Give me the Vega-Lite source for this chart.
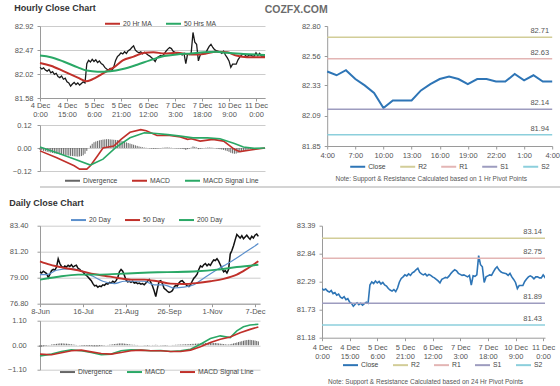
{
"$schema":"https://vega.github.io/schema/vega-lite/v6.json",
"background":"white",
"padding":{"left":7,"top":4,"right":0,"bottom":0},
"title":{"text":"COZFX.COM","anchor":"middle","frame":"bounds","fontSize":10.5,"fontWeight":"bold","color":"#6b6b6b","offset":-11,"dx":-3.5},
"config":{
 "font":"Liberation Sans",
 "view":{"stroke":null},
 "axis":{"labelFont":"Liberation Sans","labelFontSize":7.5,"labelColor":"#555","domainColor":"#9a9a9a","tickColor":"#9a9a9a","gridColor":"#cccccc","tickSize":3,"labelFlush":false,"labelOverlap":false,"titleFont":"Liberation Sans"},
 "legend":{"labelFont":"Liberation Sans","labelFontSize":6.8,"labelColor":"#444","symbolType":"stroke","symbolSize":225,"symbolStrokeWidth":2,"labelOffset":2,"columnPadding":10},
 "title":{"font":"Liberation Sans"}
},
"datasets":{
 "hourly":[{"i":0,"c":82.15},{"i":1,"c":82.12},{"i":2,"c":82.14},{"i":3,"c":82.10},{"i":4,"c":82.08},{"i":5,"c":82.11},{"i":6,"c":82.05},{"i":7,"c":82.07},{"i":8,"c":82.02},{"i":9,"c":82.04},{"i":10,"c":81.98},{"i":11,"c":81.96},{"i":12,"c":81.99},{"i":13,"c":81.93},{"i":14,"c":81.95},{"i":15,"c":81.88},{"i":16,"c":81.86},{"i":17,"c":81.80},{"i":18,"c":81.84},{"i":19,"c":81.87},{"i":20,"c":81.83},{"i":21,"c":81.86},{"i":22,"c":81.82},{"i":23,"c":81.85},{"i":24,"c":81.88},{"i":25,"c":81.86},{"i":26,"c":82.22},{"i":27,"c":82.28},{"i":28,"c":82.25},{"i":29,"c":82.30},{"i":30,"c":82.26},{"i":31,"c":82.29},{"i":32,"c":82.24},{"i":33,"c":82.27},{"i":34,"c":82.22},{"i":35,"c":82.20},{"i":36,"c":82.15},{"i":37,"c":82.12},{"i":38,"c":82.10},{"i":39,"c":82.13},{"i":40,"c":82.09},{"i":41,"c":82.16},{"i":42,"c":82.28},{"i":43,"c":82.35},{"i":44,"c":82.38},{"i":45,"c":82.42},{"i":46,"c":82.40},{"i":47,"c":82.44},{"i":48,"c":82.41},{"i":49,"c":82.46},{"i":50,"c":82.48},{"i":51,"c":82.52},{"i":52,"c":82.55},{"i":53,"c":82.47},{"i":54,"c":82.44},{"i":55,"c":82.42},{"i":56,"c":82.44},{"i":57,"c":82.40},{"i":58,"c":82.43},{"i":59,"c":82.41},{"i":60,"c":82.38},{"i":61,"c":82.36},{"i":62,"c":82.33},{"i":63,"c":82.30},{"i":64,"c":82.26},{"i":65,"c":82.33},{"i":66,"c":82.35},{"i":67,"c":82.37},{"i":68,"c":82.36},{"i":69,"c":82.40},{"i":70,"c":82.45},{"i":71,"c":82.49},{"i":72,"c":82.52},{"i":73,"c":82.50},{"i":74,"c":82.45},{"i":75,"c":82.43},{"i":76,"c":82.41},{"i":77,"c":82.42},{"i":78,"c":82.40},{"i":79,"c":82.38},{"i":80,"c":82.41},{"i":81,"c":82.22},{"i":82,"c":82.40},{"i":83,"c":82.39},{"i":84,"c":82.42},{"i":85,"c":82.80},{"i":86,"c":82.62},{"i":87,"c":82.58},{"i":88,"c":82.27},{"i":89,"c":82.38},{"i":90,"c":82.40},{"i":91,"c":82.42},{"i":92,"c":82.41},{"i":93,"c":82.48},{"i":94,"c":82.54},{"i":95,"c":82.58},{"i":96,"c":82.52},{"i":97,"c":82.48},{"i":98,"c":82.46},{"i":99,"c":82.45},{"i":100,"c":82.44},{"i":101,"c":82.41},{"i":102,"c":82.45},{"i":103,"c":82.38},{"i":104,"c":82.33},{"i":105,"c":82.27},{"i":106,"c":82.15},{"i":107,"c":82.21},{"i":108,"c":82.21},{"i":109,"c":82.21},{"i":110,"c":82.29},{"i":111,"c":82.34},{"i":112,"c":82.38},{"i":113,"c":82.40},{"i":114,"c":82.38},{"i":115,"c":82.34},{"i":116,"c":82.38},{"i":117,"c":82.38},{"i":118,"c":82.36},{"i":119,"c":82.36},{"i":120,"c":82.42},{"i":121,"c":82.37},{"i":122,"c":82.41},{"i":123,"c":82.36},{"i":124,"c":82.36},{"i":125,"c":82.36}],
 "hma":[{"s":"20 Hr MA","i":0,"v":82.23},{"s":"20 Hr MA","i":6,"v":82.18},{"s":"20 Hr MA","i":13,"v":82.08},{"s":"20 Hr MA","i":21,"v":81.96},{"s":"20 Hr MA","i":26,"v":81.89},{"s":"20 Hr MA","i":31,"v":81.96},{"s":"20 Hr MA","i":35,"v":82.04},{"s":"20 Hr MA","i":41,"v":82.15},{"s":"20 Hr MA","i":46,"v":82.28},{"s":"20 Hr MA","i":52,"v":82.35},{"s":"20 Hr MA","i":58,"v":82.42},{"s":"20 Hr MA","i":63,"v":82.43},{"s":"20 Hr MA","i":69,"v":82.41},{"s":"20 Hr MA","i":76,"v":82.42},{"s":"20 Hr MA","i":84,"v":82.39},{"s":"20 Hr MA","i":91,"v":82.40},{"s":"20 Hr MA","i":98,"v":82.44},{"s":"20 Hr MA","i":104,"v":82.43},{"s":"20 Hr MA","i":109,"v":82.37},{"s":"20 Hr MA","i":115,"v":82.34},{"s":"20 Hr MA","i":125,"v":82.34},
  {"s":"50 Hrs MA","i":0,"v":82.37},{"s":"50 Hrs MA","i":6,"v":82.34},{"s":"50 Hrs MA","i":13,"v":82.26},{"s":"50 Hrs MA","i":21,"v":82.15},{"s":"50 Hrs MA","i":26,"v":82.09},{"s":"50 Hrs MA","i":32,"v":82.07},{"s":"50 Hrs MA","i":39,"v":82.08},{"s":"50 Hrs MA","i":46,"v":82.12},{"s":"50 Hrs MA","i":54,"v":82.20},{"s":"50 Hrs MA","i":61,"v":82.28},{"s":"50 Hrs MA","i":69,"v":82.36},{"s":"50 Hrs MA","i":76,"v":82.39},{"s":"50 Hrs MA","i":84,"v":82.41},{"s":"50 Hrs MA","i":91,"v":82.43},{"s":"50 Hrs MA","i":98,"v":82.44},{"s":"50 Hrs MA","i":104,"v":82.42},{"s":"50 Hrs MA","i":113,"v":82.40},{"s":"50 Hrs MA","i":125,"v":82.38}],
 "hmacd":[{"s":"MACD","i":0,"v":-0.015},{"s":"MACD","i":9,"v":-0.05},{"s":"MACD","i":19,"v":-0.093},{"s":"MACD","i":22,"v":-0.11},{"s":"MACD","i":26,"v":-0.11},{"s":"MACD","i":28,"v":-0.093},{"s":"MACD","i":32,"v":-0.04},{"s":"MACD","i":35,"v":0.0},{"s":"MACD","i":41,"v":0.01},{"s":"MACD","i":45,"v":0.045},{"s":"MACD","i":50,"v":0.082},{"s":"MACD","i":56,"v":0.096},{"s":"MACD","i":59,"v":0.09},{"s":"MACD","i":65,"v":0.065},{"s":"MACD","i":72,"v":0.065},{"s":"MACD","i":78,"v":0.058},{"s":"MACD","i":82,"v":0.045},{"s":"MACD","i":84,"v":0.048},{"s":"MACD","i":89,"v":0.036},{"s":"MACD","i":96,"v":0.045},{"s":"MACD","i":102,"v":0.036},{"s":"MACD","i":108,"v":-0.007},{"s":"MACD","i":111,"v":-0.019},{"s":"MACD","i":117,"v":-0.01},{"s":"MACD","i":125,"v":0.0},
  {"s":"MACD Signal Line","i":0,"v":0.005},{"s":"MACD Signal Line","i":9,"v":-0.024},{"s":"MACD Signal Line","i":19,"v":-0.058},{"s":"MACD Signal Line","i":28,"v":-0.089},{"s":"MACD Signal Line","i":35,"v":-0.058},{"s":"MACD Signal Line","i":42,"v":0.002},{"s":"MACD Signal Line","i":50,"v":0.053},{"s":"MACD Signal Line","i":58,"v":0.079},{"s":"MACD Signal Line","i":63,"v":0.077},{"s":"MACD Signal Line","i":71,"v":0.07},{"s":"MACD Signal Line","i":78,"v":0.062},{"s":"MACD Signal Line","i":85,"v":0.053},{"s":"MACD Signal Line","i":93,"v":0.053},{"s":"MACD Signal Line","i":100,"v":0.048},{"s":"MACD Signal Line","i":108,"v":0.024},{"s":"MACD Signal Line","i":113,"v":0.005},{"s":"MACD Signal Line","i":119,"v":-0.002},{"s":"MACD Signal Line","i":125,"v":0.0}],
 "hdiv":[{"i":0,"v":-0.010},{"i":1,"v":-0.012},{"i":2,"v":-0.015},{"i":3,"v":-0.017},{"i":4,"v":-0.020},{"i":5,"v":-0.022},{"i":6,"v":-0.024},{"i":7,"v":-0.026},{"i":8,"v":-0.028},{"i":9,"v":-0.030},{"i":10,"v":-0.031},{"i":11,"v":-0.033},{"i":12,"v":-0.035},{"i":13,"v":-0.036},{"i":14,"v":-0.037},{"i":15,"v":-0.038},{"i":16,"v":-0.040},{"i":17,"v":-0.041},{"i":18,"v":-0.042},{"i":19,"v":-0.043},{"i":20,"v":-0.044},{"i":21,"v":-0.045},{"i":22,"v":-0.044},{"i":23,"v":-0.042},{"i":24,"v":-0.038},{"i":25,"v":-0.030},{"i":26,"v":-0.015},{"i":27,"v":0.000},{"i":28,"v":0.012},{"i":29,"v":0.022},{"i":30,"v":0.030},{"i":31,"v":0.034},{"i":32,"v":0.037},{"i":33,"v":0.040},{"i":34,"v":0.042},{"i":35,"v":0.044},{"i":36,"v":0.045},{"i":37,"v":0.046},{"i":38,"v":0.046},{"i":39,"v":0.045},{"i":40,"v":0.044},{"i":41,"v":0.043},{"i":42,"v":0.042},{"i":43,"v":0.041},{"i":44,"v":0.040},{"i":45,"v":0.038},{"i":46,"v":0.035},{"i":47,"v":0.032},{"i":48,"v":0.029},{"i":49,"v":0.026},{"i":50,"v":0.023},{"i":51,"v":0.020},{"i":52,"v":0.017},{"i":53,"v":0.014},{"i":54,"v":0.011},{"i":55,"v":0.008},{"i":56,"v":0.006},{"i":57,"v":0.004},{"i":58,"v":0.002},{"i":59,"v":0.001},{"i":60,"v":0.000},{"i":61,"v":-0.002},{"i":62,"v":-0.003},{"i":63,"v":-0.004},{"i":64,"v":-0.004},{"i":65,"v":-0.003},{"i":66,"v":-0.002},{"i":67,"v":-0.001},{"i":68,"v":0.001},{"i":69,"v":0.002},{"i":70,"v":0.003},{"i":71,"v":0.003},{"i":72,"v":0.002},{"i":73,"v":0.001},{"i":74,"v":0.000},{"i":75,"v":-0.001},{"i":76,"v":-0.002},{"i":77,"v":-0.002},{"i":78,"v":-0.003},{"i":79,"v":-0.004},{"i":80,"v":-0.006},{"i":81,"v":-0.010},{"i":82,"v":-0.006},{"i":83,"v":-0.003},{"i":84,"v":0.002},{"i":85,"v":0.008},{"i":86,"v":0.006},{"i":87,"v":0.003},{"i":88,"v":-0.006},{"i":89,"v":-0.004},{"i":90,"v":-0.002},{"i":91,"v":0.000},{"i":92,"v":0.001},{"i":93,"v":0.002},{"i":94,"v":0.003},{"i":95,"v":0.002},{"i":96,"v":0.001},{"i":97,"v":0.000},{"i":98,"v":-0.002},{"i":99,"v":-0.004},{"i":100,"v":-0.006},{"i":101,"v":-0.008},{"i":102,"v":-0.010},{"i":103,"v":-0.013},{"i":104,"v":-0.016},{"i":105,"v":-0.020},{"i":106,"v":-0.025},{"i":107,"v":-0.028},{"i":108,"v":-0.030},{"i":109,"v":-0.029},{"i":110,"v":-0.026},{"i":111,"v":-0.022},{"i":112,"v":-0.018},{"i":113,"v":-0.015},{"i":114,"v":-0.012},{"i":115,"v":-0.010},{"i":116,"v":-0.008},{"i":117,"v":-0.006},{"i":118,"v":-0.005},{"i":119,"v":-0.004},{"i":120,"v":-0.003},{"i":121,"v":-0.002},{"i":122,"v":-0.002},{"i":123,"v":-0.001},{"i":124,"v":-0.001},{"i":125,"v":0.000}],
 "srh":[{"lvl":"R2","v":82.71,"label":"82.71"},{"lvl":"R1","v":82.54,"label":"82.63"},{"lvl":"S1","v":82.14,"label":"82.14"},{"lvl":"S2","v":81.94,"label":"81.94"}],
 "srd":[{"lvl":"R2","v":83.14,"label":"83.14"},{"lvl":"R1","v":82.75,"label":"82.75"},{"lvl":"S1","v":81.86,"label":"81.89"},{"lvl":"S2","v":81.43,"label":"81.43"}],
 "daily":[{"d":0,"c":79.5},{"d":1,"c":79.4},{"d":2,"c":79.55},{"d":3,"c":79.45},{"d":4,"c":79.35},{"d":5,"c":79.0},{"d":6,"c":79.3},{"d":7,"c":79.6},{"d":8,"c":79.7},{"d":9,"c":79.65},{"d":10,"c":79.9},{"d":11,"c":80.6},{"d":12,"c":80.2},{"d":13,"c":79.95},{"d":14,"c":79.85},{"d":15,"c":80.0},{"d":16,"c":79.9},{"d":17,"c":80.05},{"d":18,"c":79.95},{"d":19,"c":80.1},{"d":20,"c":79.9},{"d":21,"c":80.0},{"d":22,"c":80.05},{"d":23,"c":79.8},{"d":24,"c":79.7},{"d":25,"c":79.55},{"d":26,"c":79.5},{"d":27,"c":79.3},{"d":28,"c":79.2},{"d":29,"c":79.05},{"d":30,"c":78.9},{"d":31,"c":78.75},{"d":32,"c":78.5},{"d":33,"c":78.3},{"d":34,"c":78.35},{"d":35,"c":78.2},{"d":36,"c":78.3},{"d":37,"c":78.25},{"d":38,"c":78.4},{"d":39,"c":78.35},{"d":40,"c":78.5},{"d":41,"c":78.45},{"d":42,"c":78.6},{"d":43,"c":78.55},{"d":44,"c":78.7},{"d":45,"c":78.6},{"d":46,"c":78.75},{"d":47,"c":79.0},{"d":48,"c":79.5},{"d":49,"c":79.7},{"d":50,"c":79.55},{"d":51,"c":79.2},{"d":52,"c":78.8},{"d":53,"c":78.65},{"d":54,"c":78.7},{"d":55,"c":78.6},{"d":56,"c":78.7},{"d":57,"c":78.55},{"d":58,"c":78.6},{"d":59,"c":78.5},{"d":60,"c":78.55},{"d":61,"c":78.45},{"d":62,"c":78.5},{"d":63,"c":78.4},{"d":64,"c":78.55},{"d":65,"c":78.7},{"d":66,"c":78.85},{"d":67,"c":78.6},{"d":68,"c":78.3},{"d":69,"c":77.9},{"d":70,"c":77.4},{"d":71,"c":78.1},{"d":72,"c":78.7},{"d":73,"c":78.75},{"d":74,"c":78.5},{"d":75,"c":78.1},{"d":76,"c":78.0},{"d":77,"c":77.85},{"d":78,"c":77.75},{"d":79,"c":77.8},{"d":80,"c":77.9},{"d":81,"c":78.2},{"d":82,"c":78.35},{"d":83,"c":78.3},{"d":84,"c":78.55},{"d":85,"c":78.7},{"d":86,"c":78.75},{"d":87,"c":78.6},{"d":88,"c":78.45},{"d":89,"c":78.3},{"d":90,"c":78.25},{"d":91,"c":78.4},{"d":92,"c":78.7},{"d":93,"c":78.95},{"d":94,"c":79.1},{"d":95,"c":79.3},{"d":96,"c":79.7},{"d":97,"c":80.0},{"d":98,"c":79.9},{"d":99,"c":80.1},{"d":100,"c":80.2},{"d":101,"c":80.0},{"d":102,"c":80.15},{"d":103,"c":80.05},{"d":104,"c":80.3},{"d":105,"c":80.5},{"d":106,"c":80.45},{"d":107,"c":80.6},{"d":108,"c":80.4},{"d":109,"c":80.1},{"d":110,"c":79.8},{"d":111,"c":79.5},{"d":112,"c":79.6},{"d":113,"c":79.4},{"d":114,"c":79.7},{"d":115,"c":81.0},{"d":116,"c":81.3},{"d":117,"c":81.7},{"d":118,"c":82.2},{"d":119,"c":82.65},{"d":120,"c":82.5},{"d":121,"c":82.35},{"d":122,"c":82.55},{"d":123,"c":82.3},{"d":124,"c":82.45},{"d":125,"c":82.6},{"d":126,"c":82.4},{"d":127,"c":82.25},{"d":128,"c":82.5},{"d":129,"c":82.35},{"d":130,"c":82.6},{"d":131,"c":82.7},{"d":132,"c":82.5}],
 "dma":[{"s":"20 Day","d":0,"v":79.26},{"s":"20 Day","d":4,"v":79.26},{"s":"20 Day","d":10,"v":79.63},{"s":"20 Day","d":18,"v":79.74},{"s":"20 Day","d":24,"v":79.63},{"s":"20 Day","d":32,"v":79.12},{"s":"20 Day","d":38,"v":78.70},{"s":"20 Day","d":45,"v":78.5},{"s":"20 Day","d":51,"v":78.7},{"s":"20 Day","d":57,"v":78.7},{"s":"20 Day","d":63,"v":78.7},{"s":"20 Day","d":69,"v":78.4},{"s":"20 Day","d":75,"v":78.4},{"s":"20 Day","d":81,"v":78.13},{"s":"20 Day","d":87,"v":78.2},{"s":"20 Day","d":93,"v":78.4},{"s":"20 Day","d":99,"v":78.95},{"s":"20 Day","d":105,"v":79.5},{"s":"20 Day","d":111,"v":80.0},{"s":"20 Day","d":117,"v":80.5},{"s":"20 Day","d":123,"v":81.05},{"s":"20 Day","d":129,"v":81.6},{"s":"20 Day","d":132,"v":81.9},
  {"s":"50 Day","d":0,"v":80.39},{"s":"50 Day","d":6,"v":80.10},{"s":"50 Day","d":15,"v":79.82},{"s":"50 Day","d":23,"v":79.63},{"s":"50 Day","d":31,"v":79.34},{"s":"50 Day","d":39,"v":79.17},{"s":"50 Day","d":47,"v":78.98},{"s":"50 Day","d":55,"v":78.84},{"s":"50 Day","d":63,"v":78.84},{"s":"50 Day","d":71,"v":78.70},{"s":"50 Day","d":79,"v":78.5},{"s":"50 Day","d":87,"v":78.47},{"s":"50 Day","d":95,"v":78.55},{"s":"50 Day","d":103,"v":78.70},{"s":"50 Day","d":111,"v":78.9},{"s":"50 Day","d":119,"v":79.26},{"s":"50 Day","d":125,"v":79.74},{"s":"50 Day","d":132,"v":80.39},
  {"s":"200 Day","d":0,"v":78.84},{"s":"200 Day","d":10,"v":79.06},{"s":"200 Day","d":23,"v":79.26},{"s":"200 Day","d":35,"v":79.26},{"s":"200 Day","d":47,"v":79.32},{"s":"200 Day","d":59,"v":79.40},{"s":"200 Day","d":71,"v":79.46},{"s":"200 Day","d":83,"v":79.48},{"s":"200 Day","d":95,"v":79.54},{"s":"200 Day","d":107,"v":79.68},{"s":"200 Day","d":119,"v":79.9},{"s":"200 Day","d":132,"v":80.1}],
 "dmacd":[{"s":"MACD","d":0,"v":-0.48},{"s":"MACD","d":7,"v":-0.40},{"s":"MACD","d":13,"v":-0.28},{"s":"MACD","d":19,"v":-0.21},{"s":"MACD","d":25,"v":-0.25},{"s":"MACD","d":31,"v":-0.33},{"s":"MACD","d":37,"v":-0.43},{"s":"MACD","d":43,"v":-0.40},{"s":"MACD","d":49,"v":-0.25},{"s":"MACD","d":55,"v":-0.21},{"s":"MACD","d":61,"v":-0.22},{"s":"MACD","d":67,"v":-0.25},{"s":"MACD","d":73,"v":-0.24},{"s":"MACD","d":79,"v":-0.28},{"s":"MACD","d":85,"v":-0.25},{"s":"MACD","d":91,"v":-0.18},{"s":"MACD","d":97,"v":0.04},{"s":"MACD","d":103,"v":0.30},{"s":"MACD","d":109,"v":0.42},{"s":"MACD","d":115,"v":0.34},{"s":"MACD","d":119,"v":0.64},{"s":"MACD","d":123,"v":0.83},{"s":"MACD","d":127,"v":0.91},{"s":"MACD","d":132,"v":0.94},
  {"s":"MACD Signal Line","d":0,"v":-0.40},{"s":"MACD Signal Line","d":7,"v":-0.43},{"s":"MACD Signal Line","d":13,"v":-0.34},{"s":"MACD Signal Line","d":19,"v":-0.25},{"s":"MACD Signal Line","d":25,"v":-0.22},{"s":"MACD Signal Line","d":31,"v":-0.30},{"s":"MACD Signal Line","d":37,"v":-0.37},{"s":"MACD Signal Line","d":43,"v":-0.40},{"s":"MACD Signal Line","d":49,"v":-0.33},{"s":"MACD Signal Line","d":55,"v":-0.25},{"s":"MACD Signal Line","d":61,"v":-0.22},{"s":"MACD Signal Line","d":67,"v":-0.25},{"s":"MACD Signal Line","d":73,"v":-0.25},{"s":"MACD Signal Line","d":79,"v":-0.28},{"s":"MACD Signal Line","d":85,"v":-0.28},{"s":"MACD Signal Line","d":91,"v":-0.22},{"s":"MACD Signal Line","d":97,"v":-0.07},{"s":"MACD Signal Line","d":103,"v":0.12},{"s":"MACD Signal Line","d":109,"v":0.27},{"s":"MACD Signal Line","d":115,"v":0.37},{"s":"MACD Signal Line","d":121,"v":0.56},{"s":"MACD Signal Line","d":127,"v":0.71},{"s":"MACD Signal Line","d":132,"v":0.82}],
 "ddiv":[{"d":0,"v":-0.08},{"d":1,"v":-0.07},{"d":2,"v":-0.05},{"d":3,"v":-0.03},{"d":4,"v":-0.02},{"d":5,"v":-0.01},{"d":6,"v":0.01},{"d":7,"v":0.03},{"d":8,"v":0.04},{"d":9,"v":0.05},{"d":10,"v":0.06},{"d":11,"v":0.07},{"d":12,"v":0.08},{"d":13,"v":0.08},{"d":14,"v":0.08},{"d":15,"v":0.07},{"d":16,"v":0.07},{"d":17,"v":0.06},{"d":18,"v":0.05},{"d":19,"v":0.04},{"d":20,"v":0.03},{"d":21,"v":0.02},{"d":22,"v":0.01},{"d":23,"v":0},{"d":24,"v":-0.01},{"d":25,"v":-0.02},{"d":26,"v":-0.03},{"d":27,"v":-0.03},{"d":28,"v":-0.03},{"d":29,"v":-0.04},{"d":30,"v":-0.04},{"d":31,"v":-0.04},{"d":32,"v":-0.05},{"d":33,"v":-0.05},{"d":34,"v":-0.05},{"d":35,"v":-0.05},{"d":36,"v":-0.04},{"d":37,"v":-0.03},{"d":38,"v":-0.02},{"d":39,"v":-0.01},{"d":40,"v":0},{"d":41,"v":0.01},{"d":42,"v":0.02},{"d":43,"v":0.03},{"d":44,"v":0.04},{"d":45,"v":0.05},{"d":46,"v":0.06},{"d":47,"v":0.07},{"d":48,"v":0.08},{"d":49,"v":0.08},{"d":50,"v":0.08},{"d":51,"v":0.07},{"d":52,"v":0.06},{"d":53,"v":0.05},{"d":54,"v":0.04},{"d":55,"v":0.03},{"d":56,"v":0.02},{"d":57,"v":0.02},{"d":58,"v":0.01},{"d":59,"v":0.01},{"d":60,"v":0},{"d":61,"v":0},{"d":62,"v":0},{"d":63,"v":-0.01},{"d":64,"v":-0.01},{"d":65,"v":-0.02},{"d":66,"v":-0.01},{"d":67,"v":0},{"d":68,"v":0.01},{"d":69,"v":0.01},{"d":70,"v":0.02},{"d":71,"v":0.01},{"d":72,"v":0},{"d":73,"v":-0.01},{"d":74,"v":-0.01},{"d":75,"v":-0.02},{"d":76,"v":-0.02},{"d":77,"v":-0.01},{"d":78,"v":0},{"d":79,"v":0},{"d":80,"v":0.01},{"d":81,"v":0.01},{"d":82,"v":0.02},{"d":83,"v":0.02},{"d":84,"v":0.03},{"d":85,"v":0.03},{"d":86,"v":0.03},{"d":87,"v":0.04},{"d":88,"v":0.04},{"d":89,"v":0.04},{"d":90,"v":0.05},{"d":91,"v":0.05},{"d":92,"v":0.06},{"d":93,"v":0.06},{"d":94,"v":0.07},{"d":95,"v":0.07},{"d":96,"v":0.08},{"d":97,"v":0.08},{"d":98,"v":0.09},{"d":99,"v":0.09},{"d":100,"v":0.1},{"d":101,"v":0.1},{"d":102,"v":0.11},{"d":103,"v":0.11},{"d":104,"v":0.11},{"d":105,"v":0.1},{"d":106,"v":0.1},{"d":107,"v":0.09},{"d":108,"v":0.08},{"d":109,"v":0.07},{"d":110,"v":0.06},{"d":111,"v":0.05},{"d":112,"v":0.04},{"d":113,"v":0.03},{"d":114,"v":0.03},{"d":115,"v":0.04},{"d":116,"v":0.06},{"d":117,"v":0.08},{"d":118,"v":0.1},{"d":119,"v":0.12},{"d":120,"v":0.14},{"d":121,"v":0.16},{"d":122,"v":0.18},{"d":123,"v":0.2},{"d":124,"v":0.22},{"d":125,"v":0.23},{"d":126,"v":0.24},{"d":127,"v":0.24},{"d":128,"v":0.23},{"d":129,"v":0.22},{"d":130,"v":0.21},{"d":131,"v":0.19},{"d":132,"v":0.17}]
},
"spacing":8.7,
"resolve":{"scale":{"color":"independent"},"legend":{"color":"independent"}},
"vconcat":[
 {"vconcat":[
 {"hconcat":[
   {"vconcat":[
     {"width":225,"height":72,
      "title":{"text":"Hourly Close Chart","anchor":"start","frame":"bounds","fontSize":9,"fontWeight":"bold","color":"#333","offset":2},
      "layer":[
       {"data":{"name":"hourly"},"mark":{"type":"line","color":"#1a1a1a","strokeWidth":1.3},
        "encoding":{
         "x":{"field":"i","type":"quantitative","scale":{"domain":[0,125],"nice":false,"zero":false},
              "axis":{"values":[0,15,30,45,60,75,90,105,120],"tickCount":30,"labelExpr":"[['4 Dec','0:00'],['4 Dec','15:00'],['5 Dec','6:00'],['5 Dec','21:00'],['6 Dec','12:00'],['7 Dec','3:00'],['7 Dec','18:00'],['10 Dec','9:00'],['11 Dec','0:00']][round(datum.value/15)]","grid":false,"title":null,"labelLineHeight":9,"labelPadding":0,"labelOverlap":false,"labelFlush":false,"labelAlign":"center"}},
         "y":{"field":"c","type":"quantitative","scale":{"domain":[81.58,82.92],"nice":false,"zero":false},
              "axis":{"values":[81.58,82.02,82.47,82.92],"tickCount":30,"format":".2f","grid":true,"title":null,"labelPadding":4,"labelOverlap":false,"labelFlush":false}}}},
       {"data":{"name":"hma"},"mark":{"type":"line","strokeWidth":2,"interpolate":"monotone"},
        "encoding":{
         "x":{"field":"i","type":"quantitative"},
         "y":{"field":"v","type":"quantitative"},
         "color":{"field":"s","type":"nominal","scale":{"domain":["20 Hr MA","50 Hrs MA"],"range":["#c0302a","#2aa866"]},
                  "legend":{"orient":"none","legendX":64,"legendY":-11,"direction":"horizontal","title":null}}}}
      ]},
     {"width":225,"height":46,
      "layer":[
       {"data":{"name":"hdiv"},"mark":{"type":"rule","strokeWidth":1},
        "encoding":{
         "x":{"field":"i","type":"quantitative","scale":{"domain":[0,125],"nice":false,"zero":false},"axis":null},
         "y":{"field":"v","type":"quantitative","scale":{"domain":[-0.12,0.12],"nice":false,"zero":false},"axis":{"values":[-0.12,0,0.12],"tickCount":30,"format":".2f","grid":true,"title":null,"labelPadding":5.7,"labelOverlap":false,"labelFlush":false}},
         "y2":{"datum":0},
         "color":{"datum":"Divergence"}}},
       {"data":{"name":"hmacd"},"mark":{"type":"line","strokeWidth":1.6},
        "encoding":{
         "x":{"field":"i","type":"quantitative"},
         "y":{"field":"v","type":"quantitative"},
         "color":{"field":"s","type":"nominal","scale":{"domain":["Divergence","MACD","MACD Signal Line"],"range":["#666666","#c0302a","#2aa866"]},
                  "legend":{"orient":"none","legendX":24,"legendY":47,"direction":"horizontal","title":null}}}}
      ]}
   ],"spacing":3,"resolve":{"scale":{"color":"independent"},"legend":{"color":"independent"}}},
   {"width":225,"height":120,
    "title":{"text":"\u00a0","anchor":"start","frame":"group","fontSize":9,"offset":6.15},
    "layer":[
     {"data":{"name":"hourly"},"transform":[{"filter":"datum.i >= 100 && datum.i <= 124"}],"mark":{"type":"line","strokeWidth":2},
      "encoding":{
       "x":{"field":"i","type":"quantitative","scale":{"domain":[100,124],"nice":false,"zero":false},
            "axis":{"values":[100,103,106,109,112,115,118,121,124],"tickCount":30,"labelExpr":"['4:00','7:00','10:00','13:00','16:00','19:00','22:00','1:00','4:00'][round((datum.value-100)/3)]","grid":false,"title":"Note: Support & Resistance Calculated based on 1 Hr Pivot Points","titleFontSize":6.5,"titleFontWeight":"normal","titleColor":"#555","titlePadding":17,"titleX":103.5,"labelPadding":2,"labelOverlap":false,"labelFlush":false,"labelAlign":"center"}},
       "y":{"field":"c","type":"quantitative","scale":{"domain":[81.85,82.8],"nice":false,"zero":false},
            "axis":{"values":[81.85,82.09,82.33,82.56,82.8],"tickCount":30,"format":".2f","grid":false,"title":null,"labelPadding":4,"labelOverlap":false,"labelFlush":false}},
       "color":{"datum":"Close"}}},
     {"data":{"name":"srh"},"mark":{"type":"rule","strokeWidth":1.5},
      "encoding":{
       "y":{"field":"v","type":"quantitative"},
       "color":{"field":"lvl","type":"nominal","scale":{"domain":["Close","R2","R1","S1","S2"],"range":["#2e75b6","#d2cd98","#e3b5b4","#9d9cbf","#8ccfdc"]},
                "legend":{"orient":"none","legendX":22,"legendY":132,"direction":"horizontal","title":null}}}},
     {"data":{"name":"srh"},"mark":{"type":"text","align":"right","baseline":"bottom","dx":-3,"dy":-2,"fontSize":7.5,"color":"#555"},
      "encoding":{"y":{"field":"v","type":"quantitative"},"x":{"datum":124},"text":{"field":"label"}}}
    ]}
  ],"spacing":32.2,"resolve":{"scale":{"color":"independent"},"legend":{"color":"independent"}}},
 {"width":552,"height":2,"view":{"fill":"#d4d4d4","stroke":null},"data":{"values":[{"k":1}]},"mark":{"type":"point","opacity":0},"encoding":{}}
 ],"spacing":-1,"resolve":{"scale":{"color":"independent"},"legend":{"color":"independent"}}},
 {"hconcat":[
   {"vconcat":[
     {"width":220,"height":78,
      "title":{"text":"Daily Close Chart","anchor":"start","frame":"bounds","fontSize":9,"fontWeight":"bold","color":"#333","offset":3.1},
      "layer":[
       {"data":{"name":"daily"},"mark":{"type":"line","color":"#111111","strokeWidth":1.5},
        "encoding":{
         "x":{"field":"d","type":"quantitative","scale":{"domain":[0,133],"nice":false,"zero":false},
              "axis":{"values":[0,26,52,78,104,130],"tickCount":30,"labelExpr":"['8-Jun','16-Jul','21-Aug','26-Sep','1-Nov','7-Dec'][round(datum.value/26)]","grid":false,"title":null,"labelPadding":1,"labelOverlap":false,"labelFlush":false,"labelAlign":"center"}},
         "y":{"field":"c","type":"quantitative","scale":{"domain":[76.8,83.4],"nice":false,"zero":false},
              "axis":{"values":[76.8,79,81.2,83.4],"tickCount":30,"format":".2f","grid":true,"title":null,"labelPadding":9,"labelOverlap":false,"labelFlush":false}}}},
       {"data":{"name":"dma"},"transform":[{"filter":"datum.s == '20 Day'"}],"mark":{"type":"line","strokeWidth":1.2,"interpolate":"monotone"},
        "encoding":{
         "x":{"field":"d","type":"quantitative"},
         "y":{"field":"v","type":"quantitative"},
         "color":{"field":"s","type":"nominal","scale":{"domain":["20 Day","50 Day","200 Day"],"range":["#5b8fcc","#c0302a","#2aa866"]},
                  "legend":{"orient":"none","legendX":30,"legendY":-14.4,"direction":"horizontal","title":null}}}},
       {"data":{"name":"dma"},"transform":[{"filter":"datum.s != '20 Day'"}],"mark":{"type":"line","strokeWidth":1.9,"interpolate":"monotone"},
        "encoding":{
         "x":{"field":"d","type":"quantitative"},
         "y":{"field":"v","type":"quantitative"},
         "color":{"field":"s","type":"nominal"}}}
      ]},
     {"width":220,"height":49,
      "layer":[
       {"data":{"name":"ddiv"},"mark":{"type":"rule","strokeWidth":1},
        "encoding":{
         "x":{"field":"d","type":"quantitative","scale":{"domain":[0,133],"nice":false,"zero":false},"axis":null},
         "y":{"field":"v","type":"quantitative","scale":{"domain":[-1.1,1.1],"nice":false,"zero":false},"axis":{"values":[-1.1,0,1.1],"tickCount":30,"format":".2f","grid":true,"title":null,"labelPadding":10.7,"labelOverlap":false,"labelFlush":false}},
         "y2":{"datum":0},
         "color":{"datum":"Divergence"}}},
       {"data":{"name":"dmacd"},"mark":{"type":"line","strokeWidth":1.6},
        "encoding":{
         "x":{"field":"d","type":"quantitative"},
         "y":{"field":"v","type":"quantitative"},
         "color":{"field":"s","type":"nominal","scale":{"domain":["Divergence","MACD","MACD Signal Line"],"range":["#666666","#2aa866","#c0302a"]},
                  "legend":{"orient":"none","legendX":19,"legendY":42.6,"direction":"horizontal","title":null}}}}
      ]}
   ],"spacing":1,"resolve":{"scale":{"color":"independent"},"legend":{"color":"independent"}}},
   {"width":223,"height":112,
    "title":{"text":"\u00a0","anchor":"start","frame":"group","fontSize":9,"offset":7.4},
    "layer":[
     {"data":{"name":"hourly"},"mark":{"type":"line","strokeWidth":1.6,"clip":true},
      "encoding":{
       "x":{"field":"i","type":"quantitative","scale":{"domain":[0,121],"nice":false,"zero":false},
            "axis":{"values":[0,15,30,45,60,75,90,105,120],"tickCount":30,"labelExpr":"[['4 Dec','0:00'],['4 Dec','15:00'],['5 Dec','6:00'],['5 Dec','21:00'],['6 Dec','12:00'],['7 Dec','3:00'],['7 Dec','18:00'],['10 Dec','9:00'],['11 Dec','0:00']][round(datum.value/15)]","grid":false,"title":"Note: Support & Resistance Calculated based on 24 Hr Pivot Points","titleFontSize":6.5,"titleFontWeight":"normal","titleColor":"#555","titlePadding":18.4,"titleX":103,"labelLineHeight":9,"labelPadding":2.5,"labelOverlap":false,"labelFlush":false,"labelAlign":"center"}},
       "y":{"field":"c","type":"quantitative","scale":{"domain":[81.18,83.39],"nice":false,"zero":false},
            "axis":{"values":[81.18,81.73,82.29,82.84,83.39],"tickCount":30,"format":".2f","grid":false,"title":null,"labelPadding":4,"labelOverlap":false,"labelFlush":false}},
       "color":{"datum":"Close"}}},
     {"data":{"name":"srd"},"mark":{"type":"rule","strokeWidth":1.5},
      "encoding":{
       "y":{"field":"v","type":"quantitative"},
       "color":{"field":"lvl","type":"nominal","scale":{"domain":["Close","R2","R1","S1","S2"],"range":["#2e75b6","#d2cd98","#e3b5b4","#9d9cbf","#8ccfdc"]},
                "legend":{"orient":"none","legendX":20,"legendY":130.7,"direction":"horizontal","title":null}}}},
     {"data":{"name":"srd"},"mark":{"type":"text","align":"right","baseline":"bottom","dx":-3,"dy":-2,"fontSize":7.5,"color":"#555"},
      "encoding":{"y":{"field":"v","type":"quantitative"},"x":{"datum":121},"text":{"field":"label"}}}
    ]}
  ],"spacing":30,"resolve":{"scale":{"color":"independent"},"legend":{"color":"independent"}}}
]
}
